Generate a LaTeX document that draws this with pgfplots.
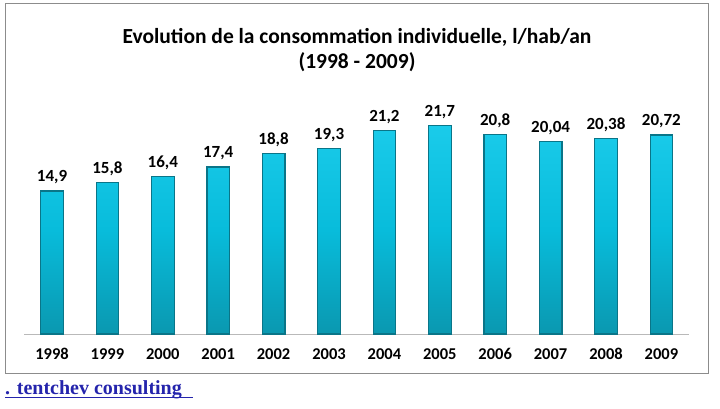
\documentclass[border=0pt]{standalone}
\usepackage{fontspec}
\setmainfont{Carlito}
\newfontfamily\linkfont{Liberation Serif}
\usepackage{pgfplots}
\pgfplotsset{compat=1.18}
\usepackage{pgfplotstable}
\definecolor{barmid}{HTML}{08BCDB}
\definecolor{bartop}{HTML}{1ACBEA}
\definecolor{barbot}{HTML}{0A98B0}
\definecolor{baredge}{HTML}{0A7588}
\definecolor{framegray}{HTML}{8C8C8C}
\definecolor{linkblue}{HTML}{2424AC}

% consumption per inhabitant, l/hab/an
\pgfplotstableread{
x y lab
0 14.9 14,9
1 15.8 15,8
2 16.4 16,4
3 17.4 17,4
4 18.8 18,8
5 19.3 19,3
6 21.2 21,2
7 21.7 21,7
8 20.8 20,8
9 20.04 20,04
10 20.38 20,38
11 20.72 20,72
}\conso

\begin{document}
\begin{tikzpicture}[x=1pt,y=1pt]
\useasboundingbox (0,0) rectangle (720,408);
\draw[framegray, line width=1pt] (5,35) rectangle (708,404);

\node[font=\bfseries\fontsize{21.5}{25}\selectfont] at (357,371) {Evolution de la consommation individuelle, l/hab/an};
\node[font=\bfseries\fontsize{21.5}{25}\selectfont] at (357,346) {(1998 - 2009)};

\begin{axis}[
    anchor=south west,
    at={(24.3pt,74pt)},
    x=55.4pt, y=9.6pt,
    xmin=-0.5, xmax=11.5,
    ymin=0, ymax=24,
    axis x line=bottom,
    hide y axis,
    x axis line style={gray!55, line width=0.8pt, -},
    xtick=data,
    xticklabels={1998,1999,2000,2001,2002,2003,2004,2005,2006,2007,2008,2009},
    xtick style={draw=none},
    xticklabel style={font=\bfseries\fontsize{16.5}{19}\selectfont, text height=11pt, text depth=0pt, yshift=-7pt},
    ybar, bar width=22.6pt,
    clip=false,
    nodes near coords,
    point meta=explicit symbolic,
    every node near coord/.append style={font=\bfseries\fontsize{17}{20}\selectfont, anchor=south, yshift=3pt, black},
]
\addplot[draw=baredge, line width=1.2pt, top color=bartop, bottom color=barbot, middle color=barmid]
    table[x=x, y=y, meta=lab] {\conso};
\end{axis}

\node[anchor=base west, font=\linkfont\bfseries\fontsize{20}{24}\selectfont, text=linkblue, inner sep=0pt] at (5,14) {. tentchev consulting};
\draw[linkblue, line width=0.8pt] (5,10.5) -- (193,10.5);
\end{tikzpicture}
\end{document}
